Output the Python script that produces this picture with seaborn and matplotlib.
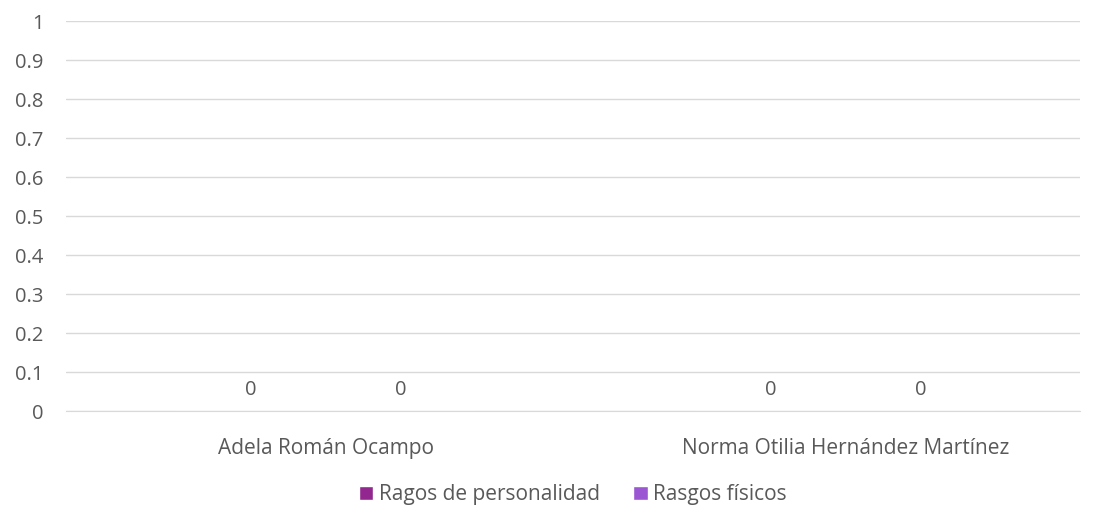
import pandas as pd
import matplotlib.pyplot as plt
import seaborn as sns

personas = ["Adela Román Ocampo", "Norma Otilia Hernández Martínez"]
series = ["Ragos de personalidad", "Rasgos físicos"]
personalidad = [0, 0]
fisicos = [0, 0]
colores = ["#92278F", "#9B57D3"]
yticks = [0, 0.1, 0.2, 0.3, 0.4, 0.5, 0.6, 0.7, 0.8, 0.9, 1]
ylabels = ["0", "0.1", "0.2", "0.3", "0.4", "0.5", "0.6", "0.7", "0.8", "0.9", "1"]

df = pd.DataFrame({
    "persona": personas * 2,
    "serie": [series[0]] * 2 + [series[1]] * 2,
    "valor": personalidad + fisicos,
})

sns.set_style("white")
plt.rcParams['font.family'] = ['Open Sans', 'DejaVu Sans']
gris = "#595959"
fs = 14.5

fig, ax = plt.subplots(figsize=(10.95, 5.08), dpi=100)
fig.subplots_adjust(left=0.06, right=0.986, top=0.958, bottom=0.19)

sns.barplot(data=df, x="persona", y="valor", hue="serie", palette=colores,
            width=0.58, ax=ax, saturation=1)

# etiquetas de datos sobre cada barra
for cont in ax.containers:
    ax.bar_label(cont, fmt="%g", padding=8, color=gris, fontsize=fs)

ax.set_ylim(0, 1)
ax.set_yticks(yticks)
ax.set_yticklabels(ylabels)
ax.set_xlim(-0.5, 1.45)
ax.yaxis.grid(True, color="#D9D9D9", linewidth=1)
ax.set_axisbelow(True)
for s in ["top", "right", "left"]:
    ax.spines[s].set_visible(False)
ax.spines["bottom"].set_color("#D9D9D9")
ax.tick_params(axis="both", length=0, colors=gris)
ax.tick_params(axis="x", pad=19, labelsize=15)
ax.tick_params(axis="y", pad=16, labelsize=14.5)
ax.set_xlabel("")
ax.set_ylabel("")

ax.legend(loc="center", bbox_to_anchor=(0.5, -0.214), ncol=2, frameon=False,
          fontsize=15, handlelength=0.7, handleheight=0.7, handletextpad=0.25,
          columnspacing=1.6, labelcolor=gris)

fig.savefig("out.png", dpi=100)
